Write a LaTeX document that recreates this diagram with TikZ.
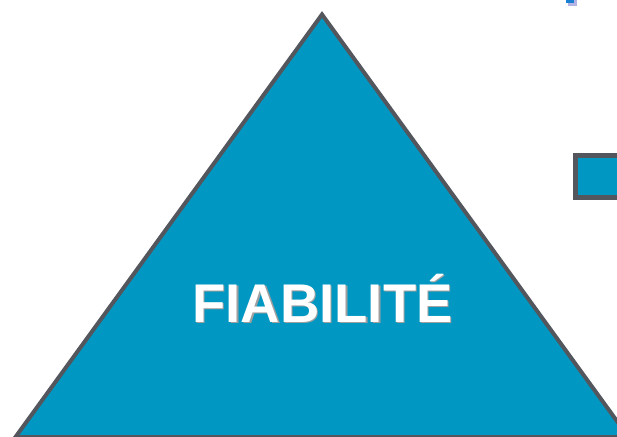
\documentclass[tikz,border=0pt]{standalone}
\usepackage{fontspec}
\newfontfamily\titlefont{Liberation Sans}
\usetikzlibrary{positioning}
\definecolor{pyrblue}{HTML}{0098C3}
\definecolor{pyredge}{HTML}{53565C}
\definecolor{markblue}{HTML}{1A7FD0}
\definecolor{markshade}{HTML}{B4B4E4}
% white lettering with a grey copy set just behind it
\newcommand{\shadedword}[1]{\rlap{\kern1.4pt\raisebox{-1.5pt}{\textcolor{gray!75}{#1}}}\textcolor{white}{#1}}
\tikzset{
  pyramid/.style={fill=pyrblue, draw=pyredge, line width=4pt, line join=miter},
  tab/.style={fill=pyrblue, draw=pyredge, line width=5pt},
  title/.style={font=\titlefont\bfseries\fontsize{54.5}{60}\selectfont, inner sep=0pt, anchor=base}
}
\begin{document}
\begin{tikzpicture}[x=1pt,y=-1pt]

  \clip (0,0) rectangle (617,436);
  \fill[white] (0,0) rectangle (617,436);

  % small marker at the top edge
  \fill[markshade] (568,-5) rectangle (577,6);
  \fill[markblue] (566,-5) rectangle (574,3);

  % the pyramid
  \draw[pyramid] (322,14.5) -- (628.5,437) -- (15.5,437) -- cycle;

  % side tab
  \draw[tab] (575.5,155.5) rectangle (650,197.5);

  % label
  \node[title] (titletext) at (322.5,322) {\shadedword{FIABILITÉ}};

\end{tikzpicture}
\end{document}
